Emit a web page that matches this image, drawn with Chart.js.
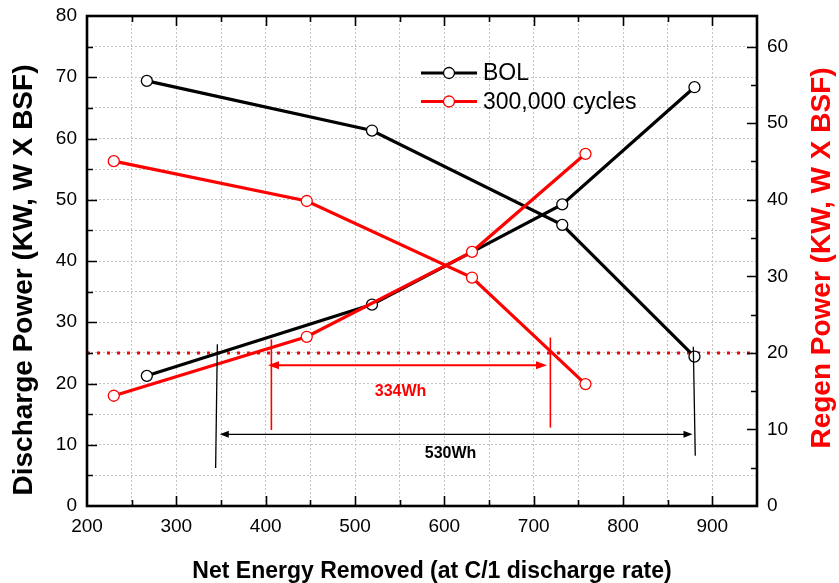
<!DOCTYPE html>
<html>
<head>
<meta charset="utf-8">
<script src="https://cdn.jsdelivr.net/npm/chart.js@4.4.1/dist/chart.umd.min.js"></script>
<style>
  html, body { margin: 0; padding: 0; background: #fff; }
  #wrap { width: 839px; height: 583px; }
</style>
</head>
<body>
<div id="wrap"><canvas id="powerChart" width="839" height="583"></canvas></div>
<script>
// Net energy removed (Wh) at each test point
const bolEnergy = [267, 519, 732, 880];
const cycledEnergy = [230, 446, 631, 758];

// Discharge power (left axis)
const bolDischarge = [69.4, 61.3, 45.9, 24.4];
const cycledDischarge = [56.3, 49.8, 37.3, 19.9];

// Regen power (right axis)
const bolRegen = [17.0, 26.3, 39.4, 54.7];
const cycledRegen = [14.4, 22.1, 33.2, 46.0];

// Power target, drawn against the regen axis
const targetEnergy = [200, 950];
const targetRegen = [20, 20];

// Usable-energy guides: [xTop, yTop, xBottom, yBottom] on the discharge axis
const bolGuides = [[345.9, 26.4, 344.0, 6.2], [878.7, 26.0, 880.9, 8.2]];
const cycledGuides = [[406.4, 27.2, 406.4, 12.4], [718.7, 27.5, 718.7, 12.8]];

// Double arrows: [xStart, xEnd, y] and their labels [text, x, y]
const bolSpan = [348.7, 877.8, 11.7];
const cycledSpan = [402.6, 714.9, 23.0];
const bolSpanLabel = ["530Wh", 607, 8.5];
const cycledSpanLabel = ["334Wh", 551, 18.7];

const seriesNames = ["BOL", "300,000 cycles"];

const FONT = '"Liberation Sans", Arial, sans-serif';
const BLACK = "#000000";
const RED = "#ff0000";

function curve(label, xs, ys, color, axis, order) {
  return {
    label: label,
    data: xs.map((x, i) => ({ x: x, y: ys[i] })),
    yAxisID: axis,
    showLine: true,
    borderColor: color,
    borderWidth: 3.2,
    pointRadius: 5.5,
    pointHoverRadius: 5.5,
    pointBorderWidth: 1.3,
    pointBackgroundColor: "#ffffff",
    pointBorderColor: color,
    order: order,
  };
}

// Fixed axis box sizes so the plot frame lands at the same place every time
function fixSize(prop, size) {
  return (s) => {
    s[prop] = size;
    s.paddingTop = 0;
    s.paddingBottom = 0;
    s.paddingLeft = 0;
    s.paddingRight = 0;
  };
}

// Arrowhead pointing along dir (-1 left, +1 right)
function arrowHead(ctx, x, y, dir, len, half) {
  ctx.beginPath();
  ctx.moveTo(x, y);
  ctx.lineTo(x - dir * len, y - half);
  ctx.lineTo(x - dir * len, y + half);
  ctx.closePath();
  ctx.fill();
}

// Guides, arrows and their labels
const annotations = {
  id: "annotations",
  afterDatasetsDraw(chart) {
    const ctx = chart.ctx;
    const xs = chart.scales.x;
    const ys = chart.scales.y;
    ctx.save();

    function guides(list, color, width) {
      ctx.strokeStyle = color;
      ctx.lineWidth = width;
      list.forEach((g) => {
        ctx.beginPath();
        ctx.moveTo(xs.getPixelForValue(g[0]), ys.getPixelForValue(g[1]));
        ctx.lineTo(xs.getPixelForValue(g[2]), ys.getPixelForValue(g[3]));
        ctx.stroke();
      });
    }

    function span(s, color, width, len, half) {
      const x0 = xs.getPixelForValue(s[0]);
      const x1 = xs.getPixelForValue(s[1]);
      const y = ys.getPixelForValue(s[2]);
      ctx.strokeStyle = color;
      ctx.fillStyle = color;
      ctx.lineWidth = width;
      ctx.beginPath();
      ctx.moveTo(x0 + len - 1, y);
      ctx.lineTo(x1 - len + 1, y);
      ctx.stroke();
      arrowHead(ctx, x0, y, -1, len, half);
      arrowHead(ctx, x1, y, 1, len, half);
    }

    function label(l, color) {
      ctx.fillStyle = color;
      ctx.font = "bold 16px " + FONT;
      ctx.textAlign = "center";
      ctx.textBaseline = "middle";
      ctx.fillText(l[0], xs.getPixelForValue(l[1]), ys.getPixelForValue(l[2]));
    }

    guides(bolGuides, BLACK, 1.3);
    guides(cycledGuides, RED, 1.6);
    span(bolSpan, BLACK, 1.2, 9, 3.5);
    span(cycledSpan, RED, 2, 11, 4);
    label(bolSpanLabel, BLACK);
    label(cycledSpanLabel, RED);
    ctx.restore();
  },
};

// Box frame, inward tick marks, legend and axis titles
const frameAndText = {
  id: "frameAndText",
  afterDraw(chart) {
    const ctx = chart.ctx;
    const a = chart.chartArea;
    const xs = chart.scales.x;
    const ys = chart.scales.y;
    const ys1 = chart.scales.y1;
    ctx.save();

    ctx.strokeStyle = BLACK;
    ctx.lineWidth = 1.6;
    ctx.beginPath();
    for (let v = 250; v < 950; v += 50) {
      const p = Math.round(xs.getPixelForValue(v)) + 0.5;
      const len = v % 100 === 0 ? 10 : 6;
      ctx.moveTo(p, a.bottom);
      ctx.lineTo(p, a.bottom - len);
      ctx.moveTo(p, a.top);
      ctx.lineTo(p, a.top + len);
    }
    for (let v = 5; v < 80; v += 5) {
      const p = Math.round(ys.getPixelForValue(v)) + 0.5;
      const len = v % 10 === 0 ? 10 : 6;
      ctx.moveTo(a.left, p);
      ctx.lineTo(a.left + len, p);
    }
    for (let v = 5; v <= 60; v += 5) {
      const p = Math.round(ys1.getPixelForValue(v)) + 0.5;
      const len = v % 10 === 0 ? 10 : 6;
      ctx.moveTo(a.right, p);
      ctx.lineTo(a.right - len, p);
    }
    ctx.stroke();

    ctx.lineWidth = 2.6;
    ctx.strokeRect(a.left, a.top, a.right - a.left, a.bottom - a.top);

    // Legend
    const lx = a.left + 334;
    const rows = [
      [seriesNames[0], BLACK, a.top + 57],
      [seriesNames[1], RED, a.top + 85.5],
    ];
    rows.forEach((r) => {
      ctx.strokeStyle = r[1];
      ctx.lineWidth = 3.2;
      ctx.beginPath();
      ctx.moveTo(lx, r[2]);
      ctx.lineTo(lx + 56, r[2]);
      ctx.stroke();
      ctx.fillStyle = "#ffffff";
      ctx.lineWidth = 1.3;
      ctx.beginPath();
      ctx.arc(lx + 28, r[2], 5.5, 0, Math.PI * 2);
      ctx.fill();
      ctx.stroke();
      ctx.fillStyle = BLACK;
      ctx.font = "23px " + FONT;
      ctx.textAlign = "left";
      ctx.textBaseline = "middle";
      ctx.fillText(r[0], lx + 62, r[2] + 1);
    });

    // Axis titles
    ctx.textAlign = "center";
    ctx.textBaseline = "middle";
    ctx.fillStyle = BLACK;
    ctx.font = "bold 23px " + FONT;
    ctx.fillText("Net Energy Removed (at C/1 discharge rate)", 432, 571.5);

    ctx.font = "bold 28px " + FONT;
    ctx.save();
    ctx.translate(24, 280);
    ctx.rotate(-Math.PI / 2);
    ctx.fillText("Discharge Power (KW, W X BSF)", 0, 0);
    ctx.restore();

    ctx.fillStyle = RED;
    ctx.save();
    ctx.translate(822, 258);
    ctx.rotate(-Math.PI / 2);
    ctx.fillText("Regen Power (KW, W X BSF)", 0, 0);
    ctx.restore();

    ctx.restore();
  },
};

const tickFont = { family: FONT, size: 19 };
const gridColor = "#c4c4c4";

new Chart(document.getElementById("powerChart").getContext("2d"), {
  type: "scatter",
  data: {
    datasets: [
      curve(seriesNames[0], bolEnergy, bolDischarge, BLACK, "y", 2),
      curve(seriesNames[0], bolEnergy, bolRegen, BLACK, "y1", 2),
      curve(seriesNames[1], cycledEnergy, cycledDischarge, RED, "y", 1),
      curve(seriesNames[1], cycledEnergy, cycledRegen, RED, "y1", 1),
      {
        label: "target",
        data: targetEnergy.map((x, i) => ({ x: x, y: targetRegen[i] })),
        yAxisID: "y1",
        showLine: true,
        borderColor: RED,
        borderWidth: 3,
        borderDash: [3, 7],
        pointRadius: 0,
        order: 3,
      },
    ],
  },
  options: {
    responsive: false,
    animation: false,
    devicePixelRatio: 1,
    layout: { padding: { top: 16, left: 0, right: 0, bottom: 0 } },
    plugins: {
      legend: { display: false },
      tooltip: { enabled: false },
    },
    scales: {
      x: {
        type: "linear",
        min: 200,
        max: 950,
        afterFit: fixSize("height", 77),
        ticks: {
          stepSize: 50,
          autoSkip: false,
          maxRotation: 0,
          padding: 9,
          color: BLACK,
          font: tickFont,
          callback: (v) => (v % 100 === 0 ? v : ""),
        },
        grid: { color: gridColor, lineWidth: 1, drawTicks: false },
        border: { display: false, dash: [2, 2] },
      },
      y: {
        position: "left",
        min: 0,
        max: 80,
        afterFit: fixSize("width", 87),
        ticks: {
          stepSize: 5,
          autoSkip: false,
          padding: 10,
          color: BLACK,
          font: tickFont,
          callback: (v) => (v % 10 === 0 ? v : ""),
        },
        grid: { color: gridColor, lineWidth: 1, drawTicks: false },
        border: { display: false, dash: [2, 2] },
      },
      y1: {
        position: "right",
        min: 0,
        max: 64,
        afterFit: fixSize("width", 82),
        ticks: {
          stepSize: 5,
          autoSkip: false,
          padding: 10,
          color: BLACK,
          font: tickFont,
          callback: (v) => (v % 10 === 0 && v <= 60 ? v : ""),
        },
        grid: { display: false, drawTicks: false },
        border: { display: false },
      },
    },
  },
  plugins: [annotations, frameAndText],
});
</script>
</body>
</html>
